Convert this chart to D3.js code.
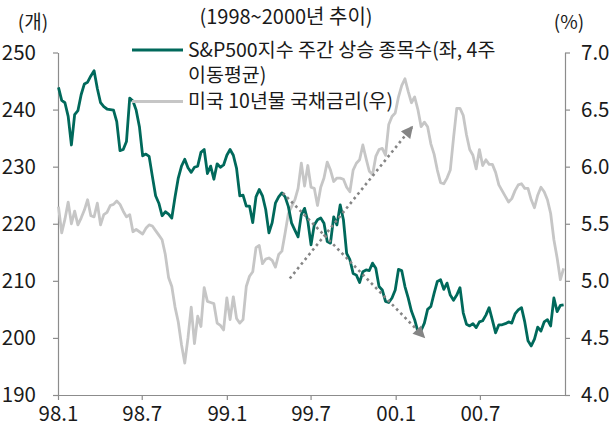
<!DOCTYPE html>
<html>
<head>
<meta charset="utf-8">
<script src="https://cdn.jsdelivr.net/npm/d3@7"></script>
<style>
  body { margin: 0; background: #fff; }
  .tick text { font-family: "Liberation Sans Narrow", "Noto Sans CJK KR", sans-serif; font-size: 20.5px; fill: #1a1a1a; }
  .lbl { font-family: "Noto Sans CJK KR", sans-serif; fill: #1a1a1a; }
</style>
</head>
<body>
<div id="chart"></div>
<script>
var figw = 609
var figh = 428

// weekly data, first week ending 1998-01-02
var firstWeek = "1998-01-02"

// S&P500 weekly advancing issues (4 week moving average), left axis
var breadth = [
  243.9, 241.6, 241.2, 238.8, 233.8, 239.1, 239.8, 242.6, 244.5, 244.8,
  245.9, 246.8, 243.7, 241.2, 240.5, 240.1, 240.0, 239.9, 237.9, 232.8,
  233.0, 234.4, 242.0, 241.5, 239.9, 237.0, 231.9, 232.2, 231.8, 228.3,
  224.9, 223.6, 221.4, 222.1, 221.7, 221.0, 224.7, 228.0, 230.1, 231.3,
  229.8,
  229.0, 229.9, 230.1, 232.5, 233.0, 228.8, 230.1, 227.8, 230.5, 229.9,
  230.3, 232.0, 233.0, 232.0, 229.7, 224.9, 225.0, 223.1, 223.1, 220.2,
  224.7, 226.0, 224.9, 222.5, 218.4, 220.2, 223.6, 224.7, 225.4, 224.7,
  223.0, 220.1, 218.9, 217.7, 221.6, 222.7, 220.5, 216.3, 219.8, 220.7,
  221.0, 220.1, 216.9, 216.6, 221.2, 219.8, 223.3, 220.7, 214.8, 213.7,
  211.3, 211.0, 209.7, 211.6, 211.9, 211.8, 213.1, 212.2, 209.0, 208.4,
  206.4, 206.2, 207.0, 208.4, 212.0, 211.8, 209.0, 207.0, 204.7, 203.2,
  201.1, 201.3, 202.6, 205.0, 205.5, 207.8, 209.9, 210.2, 208.5,
  209.6,
  207.5, 206.6, 207.5, 208.8, 204.4, 202.4, 202.1, 202.5, 201.8, 202.8,
  203.0, 204.0, 205.3, 203.1, 200.9, 202.3, 202.3, 202.5, 202.8, 202.6,
  204.2, 204.9, 205.3, 202.8, 199.5, 198.6, 199.8, 201.9, 201.2, 202.8,
  203.2, 202.1, 207.0, 204.6, 205.7, 205.8
]

// US 10y treasury yield (%), right axis
var yield10 = [
  5.65, 5.42, 5.54, 5.69, 5.50, 5.61, 5.49, 5.55, 5.62, 5.71,
  5.57, 5.56, 5.68, 5.49, 5.58, 5.60, 5.66, 5.67, 5.70, 5.67,
  5.61, 5.56, 5.58, 5.43, 5.45, 5.43, 5.41, 5.46, 5.49, 5.48,
  5.44, 5.40, 5.36, 5.23, 5.03, 4.95, 4.77, 4.64, 4.44, 4.28,
  4.50,
  4.77, 4.45, 4.69, 4.60, 4.94, 4.82, 4.81, 4.80, 4.63, 4.61,
  4.57, 4.85, 4.66, 4.86, 4.67, 4.63, 4.66, 4.95, 5.04, 5.08,
  5.29, 5.31, 5.15, 5.19, 5.20, 5.18, 5.12, 5.23, 5.26, 5.42,
  5.59, 5.65, 5.71, 5.81, 6.03, 5.83, 6.01, 5.82, 5.81, 5.66,
  5.82, 5.90, 6.04, 5.97, 5.87, 5.90, 5.90, 5.89, 5.82, 5.78,
  5.97, 6.03, 6.06, 6.19, 6.07, 5.96, 5.93, 6.09, 6.15, 6.16,
  6.10, 6.37, 6.44, 6.47, 6.61, 6.71, 6.77, 6.66, 6.56, 6.61,
  6.50, 6.35, 6.39, 6.35, 6.20, 6.11, 5.97, 5.86, 5.85,
  5.90,
  5.97, 6.25, 6.51, 6.51, 6.45, 6.28, 6.15, 6.10, 5.98, 6.15,
  6.01, 6.06, 6.02, 6.02, 5.95, 5.84, 5.79, 5.74, 5.69, 5.72,
  5.79, 5.84, 5.85, 5.81, 5.81, 5.71, 5.64, 5.75, 5.82, 5.78,
  5.71, 5.59, 5.36, 5.20, 5.01, 5.11
]

var xTickDates = ["1998-01-01", "1998-07-01", "1999-01-01", "1999-07-01", "2000-01-01", "2000-07-01"]
var xTickLabels = ["98.1", "98.7", "99.1", "99.7", "00.1", "00.7"]
var leftTicks = [190, 200, 210, 220, 230, 240, 250]
var rightTicks = [4.0, 4.5, 5.0, 5.5, 6.0, 6.5, 7.0]

var seriesNames = ["S&P500지수 주간 상승 종목수(좌, 4주", "이동평균)", "미국 10년물 국채금리(우)"]
var titleText = "(1998~2000년 추이)"

// trend arrows (date, value) on the given axis
var trendArrows = [
  {from: ["1999-05-17", 5.02], to: ["2000-02-06", 6.35], axis: "right"},
  {from: ["1999-05-02", 225.4], to: ["2000-03-03", 200.1], axis: "left"}
]

var green = "#00695b"
var grey = "#c6c6c6"
var axisCol = "#8c8c8c"

var margin = {top: 52.5, right: 44, bottom: 33, left: 58},
    width = figw - margin.left - margin.right,
    height = figh - margin.top - margin.bottom;

var parse = d3.timeParse("%Y-%m-%d")
var start = parse(firstWeek)
var weeks = breadth.map(function(v, i) { return d3.timeDay.offset(start, i * 7) })

var root = d3.select("#chart")
  .append("svg")
    .attr("width", figw)
    .attr("height", figh)
var svg = root.append("g")
    .attr("transform", "translate(" + margin.left + "," + margin.top + ")");

var x = d3.scaleTime()
  .domain([parse("1998-01-01"), parse("2001-01-01")])
  .range([0, width])
var yL = d3.scaleLinear().domain([190, 250]).range([height, 0])
var yR = d3.scaleLinear().domain([4.0, 7.0]).range([height, 0])

// axes
svg.append("g")
  .attr("transform", "translate(0," + height + ")")
  .call(d3.axisBottom(x)
    .tickValues(xTickDates.map(parse))
    .tickFormat(function(d, i) { return xTickLabels[i] })
    .tickSize(5).tickSizeOuter(0).tickPadding(6))

svg.append("g")
  .call(d3.axisLeft(yL).tickValues(leftTicks).tickSize(5).tickSizeOuter(0).tickPadding(17))

svg.append("g")
  .attr("transform", "translate(" + width + ",0)")
  .call(d3.axisRight(yR).tickValues(rightTicks).tickFormat(d3.format(".1f"))
    .tickSize(5).tickSizeOuter(0).tickPadding(11))

svg.selectAll(".domain, .tick line").attr("stroke", axisCol).attr("stroke-width", 1.2)

// lines
var lineR = d3.line()
  .x(function(d, i) { return x(weeks[i]) })
  .y(function(d) { return yR(d) })
var lineL = d3.line()
  .x(function(d, i) { return x(weeks[i]) })
  .y(function(d) { return yL(d) })

svg.append("path")
  .datum(yield10)
  .attr("d", lineR)
  .attr("fill", "none")
  .attr("stroke", grey)
  .attr("stroke-width", 2.8)
  .attr("stroke-linejoin", "round")

svg.append("path")
  .datum(breadth)
  .attr("d", lineL)
  .attr("fill", "none")
  .attr("stroke", green)
  .attr("stroke-width", 2.8)
  .attr("stroke-linejoin", "round")

// dotted arrows
var defs = root.append("defs")
defs.append("marker")
  .attr("id", "ahead")
  .attr("viewBox", "0 0 10 10")
  .attr("refX", 9).attr("refY", 5)
  .attr("markerWidth", 15).attr("markerHeight", 12)
  .attr("markerUnits", "userSpaceOnUse")
  .attr("orient", "auto")
  .append("path")
    .attr("d", "M0,0L10,5L0,10Z")
    .attr("fill", "#858585")

trendArrows.forEach(function(a) {
  var ys = a.axis == "left" ? yL : yR
  svg.append("line")
    .attr("x1", x(parse(a.from[0]))).attr("y1", ys(a.from[1]))
    .attr("x2", x(parse(a.to[0]))).attr("y2", ys(a.to[1]))
    .attr("stroke", "#858585")
    .attr("stroke-width", 2.6)
    .attr("stroke-dasharray", "2.6,3.4")
    .attr("marker-end", "url(#ahead)")
})

// titles and units
root.append("text").attr("class", "lbl")
  .attr("x", 33).attr("y", 29).attr("text-anchor", "middle")
  .style("font-size", "19px").text("(개)")
root.append("text").attr("class", "lbl")
  .attr("x", 569).attr("y", 29).attr("text-anchor", "middle")
  .style("font-size", "19px").text("(%)")
root.append("text").attr("class", "lbl")
  .attr("x", 286).attr("y", 24).attr("text-anchor", "middle")
  .style("font-size", "20px").text(titleText)

// legend
root.append("line").attr("x1", 132).attr("x2", 183).attr("y1", 50).attr("y2", 50)
  .attr("stroke", green).attr("stroke-width", 3)
root.append("line").attr("x1", 132).attr("x2", 183).attr("y1", 101.5).attr("y2", 101.5)
  .attr("stroke", grey).attr("stroke-width", 3)
var legY = [57, 82, 108]
seriesNames.forEach(function(t, i) {
  root.append("text").attr("class", "lbl")
    .attr("x", 188).attr("y", legY[i])
    .style("font-size", "19.5px")
    .text(t)
})
</script>
</body>
</html>
